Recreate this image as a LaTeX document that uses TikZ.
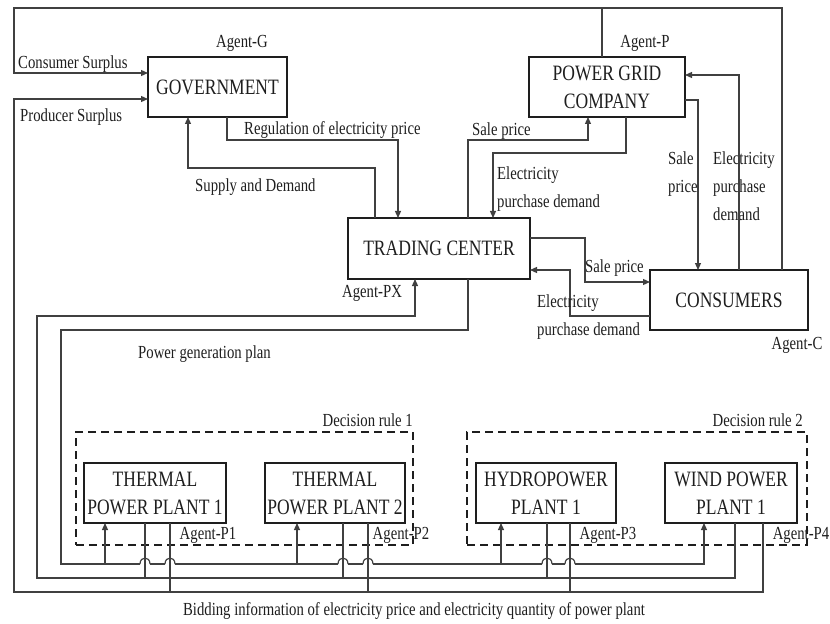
\documentclass[tikz,border=0pt]{standalone}
\usepackage{fontspec}
\setmainfont{Liberation Serif}[FakeStretch=0.8]
\usetikzlibrary{arrows.meta}
\definecolor{ink}{HTML}{1E1E1E}
\definecolor{wire}{HTML}{404040}
\newcommand\boxfont{\fontsize{22}{28}\selectfont}
\newcommand\lblfont{\fontsize{18.5}{28}\selectfont}
\begin{document}
\begin{tikzpicture}[x=1bp,y=-1bp,
  every node/.style={text=ink},
  agentbox/.style={draw=ink, line width=2.3bp, minimum height=60bp, inner sep=0pt,
    outer sep=0pt, align=center, font=\boxfont},
  rulebox/.style={draw=ink, line width=2.5bp, dash pattern=on 8bp off 5bp,
    minimum height=113bp, inner sep=0pt, outer sep=0pt},
  lbl/.style={font=\lblfont, inner sep=0pt, align=left},
  conn/.style={draw=wire, line width=1.2bp},
  arr/.style={conn, -{Triangle[length=7bp,width=6bp]}}
]
\useasboundingbox (0,0) rectangle (830,624);

% decision-rule groups
\node[rulebox, minimum width=337bp] (dr1) at (244.5,488.5) {};
\node[rulebox, minimum width=340bp] (dr2) at (637,488.5) {};
\node[lbl, anchor=east] (dr1l) at (413,420) {Decision rule 1};
\node[lbl, anchor=east] (dr2l) at (803,420) {Decision rule 2};

% agents
\node[agentbox, minimum width=139bp] (gov)   at (217.5,87)   {GOVERNMENT};
\node[agentbox, minimum width=156bp] (pgc)   at (607,87)     {POWER GRID\\COMPANY};
\node[agentbox, minimum width=182bp, minimum height=61bp] (tc) at (439,248.5) {TRADING CENTER};
\node[agentbox, minimum width=158bp] (cons)  at (729,300)    {CONSUMERS};
\node[agentbox, minimum width=142bp] (tpp1)  at (155,493)    {THERMAL\\POWER PLANT 1};
\node[agentbox, minimum width=140bp] (tpp2)  at (335,493)    {THERMAL\\POWER PLANT 2};
\node[agentbox, minimum width=140bp] (hydro) at (546,493)    {HYDROPOWER\\PLANT 1};
\node[agentbox, minimum width=132bp] (wind)  at (731,493)    {WIND POWER\\PLANT 1};

% agent tags
\node[lbl] (tagG)  at (242,43)  {Agent-G};
\node[lbl] (tagP)  at (645,43)  {Agent-P};
\node[lbl] (tagPX) at (372,293) {Agent-PX};
\node[lbl] (tagC)  at (797,345) {Agent-C};
\node[lbl] (tagP1) at (208,535) {Agent-P1};
\node[lbl] (tagP2) at (401,535) {Agent-P2};
\node[lbl] (tagP3) at (608,535) {Agent-P3};
\node[lbl] (tagP4) at (801,535) {Agent-P4};

% surplus feedback to the government
\draw[arr] (cons.north -| 782,0) |- (14,8) |- (gov.west |- 0,73);
\draw[conn] (pgc.north -| 602,0) -- (602,8);
\draw[arr] (wind.south -| 763,0) |- (14,592) |- (gov.west |- 0,99);
\draw[conn] (tpp1.south -| 170,0) -- (170,592);
\draw[conn] (tpp2.south -| 368,0) -- (368,592);
\draw[conn] (hydro.south -| 570,0) -- (570,592);
\node[lbl, anchor=west] (csl) at (18,64)  {Consumer Surplus};
\node[lbl, anchor=west] (psl) at (20,117) {Producer Surplus};

% bidding information to the trading center
\draw[arr] (wind.south -| 735,0) |- (37,578) |- (415,316) -- (tc.south -| 415,0);
\draw[conn] (tpp1.south -| 145,0) -- (145,578);
\draw[conn] (tpp2.south -| 343,0) -- (343,578);
\draw[conn] (hydro.south -| 547,0) -- (547,578);
\node[lbl] (bid) at (414,611) {Bidding information of electricity price and electricity quantity of power plant};

% power generation plan to the plants, broken where it hops over the bidding wires
\draw[conn] (tc.south -| 468,0) |- (61,330) |- (140,564)
  (150,564) -- (165,564) (175,564) -- (338,564) (348,564) -- (363,564)
  (373,564) -- (542,564) (552,564) -- (565,564);
\draw[arr] (575,564) -- (704,564) -- (wind.south -| 704,0);
\foreach \hx in {145,170,343,368,547,570}
  \draw[conn] (\hx-5,564) .. controls (\hx-5,556) and (\hx+5,556) .. (\hx+5,564);
\draw[arr] (105,564) -- (tpp1.south -| 105,0);
\draw[arr] (297,564) -- (tpp2.south -| 297,0);
\draw[arr] (501,564) -- (hydro.south -| 501,0);
\node[lbl, anchor=west] (pgp) at (138,354) {Power generation plan};

% government <-> trading center
\draw[arr] (gov.south -| 227,0) |- (398,140) -- (tc.north -| 398,0);
\draw[arr] (tc.north -| 375,0) |- (188,168) -- (gov.south -| 188,0);
\node[lbl, anchor=west] (reg) at (244,130) {Regulation of electricity price};
\node[lbl, anchor=west] (snd) at (195,187) {Supply and Demand};

% trading center <-> power grid company
\draw[arr] (tc.north -| 468,0) |- (588,140) -- (pgc.south -| 588,0);
\draw[arr] (pgc.south -| 626,0) |- (493,153) -- (tc.north -| 493,0);
\node[lbl, anchor=west] (sp1) at (472,131) {Sale price};
\node[lbl, anchor=west] (epd1) at (497,189) {Electricity\\purchase demand};

% power grid company <-> consumers
\node[lbl, anchor=west] (sp2) at (668,174) {Sale\\price};
\node[lbl, anchor=west] (epd2) at (713,186) {Electricity\\purchase\\demand};
\draw[arr] (pgc.east |- 0,100) -| (cons.north -| 698,0);
\draw[arr] (cons.north -| 739,0) |- (pgc.east |- 0,75);

% trading center <-> consumers
\draw[arr] (tc.east |- 0,238) -| (585,282) -- (cons.west |- 0,282);
\draw[arr] (cons.west |- 0,316) -| (570,270) -- (tc.east |- 0,270);
\node[lbl, anchor=west] (sp3) at (585,268) {Sale price};
\node[lbl, anchor=west] (epd3) at (537,317) {Electricity\\purchase demand};
\end{tikzpicture}
\end{document}
